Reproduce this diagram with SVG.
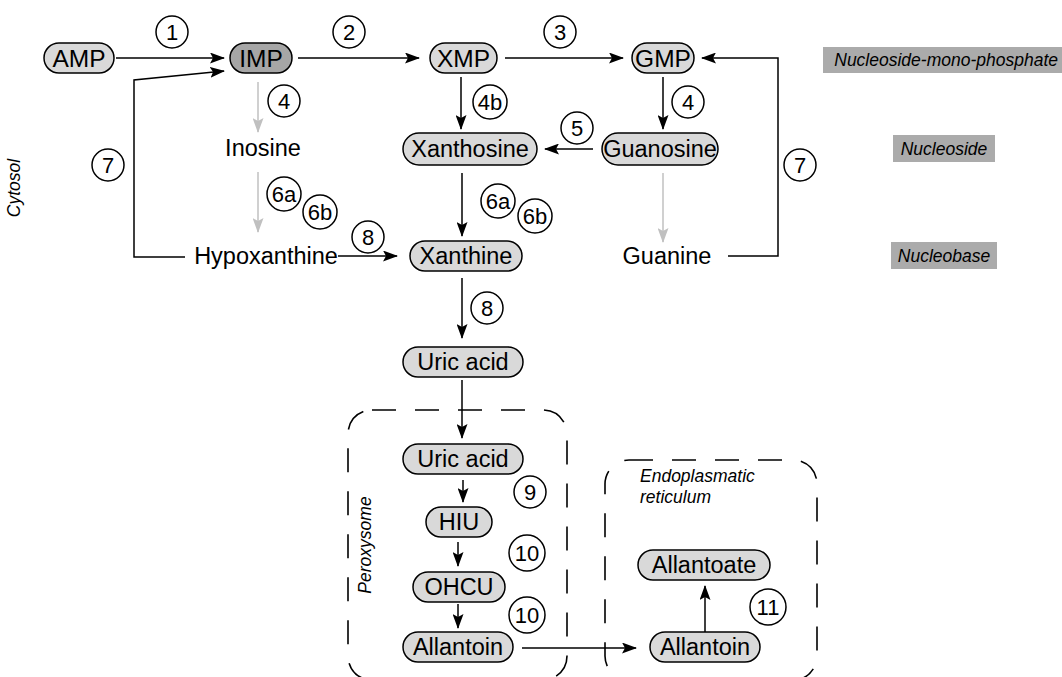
<svg xmlns="http://www.w3.org/2000/svg" width="1062" height="677" viewBox="0 0 1062 677">
<defs>
<marker id="ah" markerUnits="userSpaceOnUse" markerWidth="15" markerHeight="11" refX="14" refY="5.5" orient="auto">
<path d="M0,0 L15,5.5 L0,11 L3,5.5 Z" fill="#000"/>
</marker>
<marker id="ag" markerUnits="userSpaceOnUse" markerWidth="15" markerHeight="11" refX="14" refY="5.5" orient="auto">
<path d="M0,0 L15,5.5 L0,11 L3,5.5 Z" fill="#c0c0c0"/>
</marker>
</defs>
<style>
.pill{fill:#d9d9d9;stroke:#000;stroke-width:1.5}
.pill.dark{fill:#a6a6a6}
.t{font-family:"Liberation Sans",Arial,sans-serif;font-size:23.5px;fill:#000;text-anchor:middle}
.t.mp{font-size:24.5px}
.n{font-family:"Liberation Sans",Arial,sans-serif;font-size:22px;fill:#000;text-anchor:middle}
.c{fill:#fff;stroke:#000;stroke-width:1.5}
.lbl{fill:#ababab}
.it{font-family:"Liberation Sans",Arial,sans-serif;font-size:17.5px;font-style:italic;fill:#000}
.e{fill:none;stroke:#000;stroke-width:1.5}
.eg{fill:none;stroke:#c0c0c0;stroke-width:1.5}
.box{fill:none;stroke:#000;stroke-width:1.6;stroke-dasharray:24 19}
</style>
<rect width="1062" height="677" fill="#fff"/>

<g id="compartments">
<rect class="box" x="348" y="410" width="219" height="270" rx="24"/>
<rect class="box" x="605" y="460" width="212" height="220" rx="24"/>
<text class="it" transform="translate(20,188) rotate(-90)" text-anchor="middle" font-size="17">Cytosol</text>
<text class="it" transform="translate(371,545) rotate(-90)" text-anchor="middle" font-size="17">Peroxysome</text>
<text class="it" x="640" y="482">Endoplasmatic</text>
<text class="it" x="640" y="503">reticulum</text>
</g>

<g id="legend">
<rect class="lbl" x="823" y="47" width="239" height="26"/>
<text class="it" x="1058" y="66" text-anchor="end">Nucleoside-mono-phosphate</text>
<rect class="lbl" x="893" y="135" width="102" height="27"/>
<text class="it" x="944" y="155" text-anchor="middle">Nucleoside</text>
<rect class="lbl" x="891" y="242" width="106" height="27"/>
<text class="it" x="944" y="262" text-anchor="middle">Nucleobase</text>
</g>

<g id="connectors">
<path class="e" d="M116,58 H224" marker-end="url(#ah)"/>
<path class="e" d="M185,257 H134 V80 L224,71" marker-end="url(#ah)"/>
<path class="e" d="M298,58 H419" marker-end="url(#ah)"/>
<path class="e" d="M505,58 H623" marker-end="url(#ah)"/>
<path class="e" d="M728,256 H778 V58 H702" marker-end="url(#ah)"/>
<path class="eg" d="M258,82 V132" marker-end="url(#ag)"/>
<path class="eg" d="M258,172 V232" marker-end="url(#ag)"/>
<path class="e" d="M461,77 V129" marker-end="url(#ah)"/>
<path class="e" d="M663,77 V129" marker-end="url(#ah)"/>
<path class="e" d="M593,149 H545" marker-end="url(#ah)"/>
<path class="e" d="M462,173 V236" marker-end="url(#ah)"/>
<path class="eg" d="M663,173 V242" marker-end="url(#ag)"/>
<path class="e" d="M338,256 H397" marker-end="url(#ah)"/>
<path class="e" d="M462,278 V338" marker-end="url(#ah)"/>
<path class="e" d="M462,380 V438" marker-end="url(#ah)"/>
<path class="e" d="M463,480 V502" marker-end="url(#ah)"/>
<path class="e" d="M458,542 V566" marker-end="url(#ah)"/>
<path class="e" d="M458,604 V628" marker-end="url(#ah)"/>
<path class="e" d="M522,648 H636" marker-end="url(#ah)"/>
<path class="e" d="M705,632 V586" marker-end="url(#ah)"/>
</g>

<g id="AMP"><rect class="pill" x="44" y="43" width="70" height="30" rx="15"/><text class="t mp" x="79" y="66.5">AMP</text></g>
<g id="IMP"><rect class="pill dark" x="230" y="43" width="62" height="30" rx="15"/><text class="t mp" x="261" y="66.5">IMP</text></g>
<g id="XMP"><rect class="pill" x="430" y="43" width="67" height="30" rx="15"/><text class="t mp" x="463.5" y="66.5">XMP</text></g>
<g id="GMP"><rect class="pill" x="632" y="43" width="62" height="30" rx="15"/><text class="t mp" x="663" y="66.5">GMP</text></g>
<g id="Inosine"><text class="t" x="263" y="156">Inosine</text></g>
<g id="Xanthosine"><rect class="pill" x="403" y="133" width="134" height="32" rx="16"/><text class="t" x="470" y="157">Xanthosine</text></g>
<g id="Guanosine"><rect class="pill" x="602" y="133" width="116" height="32" rx="16"/><text class="t" x="660" y="157" font-size="22">Guanosine</text></g>
<g id="Hypoxanthine"><text class="t" x="266" y="264">Hypoxanthine</text></g>
<g id="Xanthine"><rect class="pill" x="410" y="241" width="112" height="30" rx="15"/><text class="t" x="466" y="264">Xanthine</text></g>
<g id="Guanine"><text class="t" x="667" y="264">Guanine</text></g>
<g id="UricAcid1"><rect class="pill" x="403" y="347" width="120" height="30" rx="15"/><text class="t" x="463" y="370">Uric acid</text></g>
<g id="UricAcid2"><rect class="pill" x="403" y="444" width="120" height="30" rx="15"/><text class="t" x="463" y="467">Uric acid</text></g>
<g id="HIU"><rect class="pill" x="426" y="507" width="66" height="30" rx="15"/><text class="t" x="459" y="530">HIU</text></g>
<g id="OHCU"><rect class="pill" x="413" y="572" width="92" height="30" rx="15"/><text class="t" x="459" y="595">OHCU</text></g>
<g id="Allantoin1"><rect class="pill" x="403" y="632" width="110" height="30" rx="15"/><text class="t" x="458" y="655">Allantoin</text></g>
<g id="Allantoate"><rect class="pill" x="638" y="550" width="132" height="30" rx="15"/><text class="t" x="704" y="573">Allantoate</text></g>
<g id="Allantoin2"><rect class="pill" x="650" y="632" width="110" height="30" rx="15"/><text class="t" x="705" y="655">Allantoin</text></g>

<g id="steps">
<g><circle class="c" cx="172" cy="32" r="16"/><text class="n" x="172" y="40">1</text></g>
<g><circle class="c" cx="349" cy="32" r="16"/><text class="n" x="349" y="40">2</text></g>
<g><circle class="c" cx="560" cy="32" r="16"/><text class="n" x="560" y="40">3</text></g>
<g><circle class="c" cx="284" cy="101" r="16"/><text class="n" x="284" y="109">4</text></g>
<g><circle class="c" cx="490" cy="102" r="17"/><text class="n" x="490" y="110">4b</text></g>
<g><circle class="c" cx="688" cy="102" r="16"/><text class="n" x="688" y="110">4</text></g>
<g><circle class="c" cx="577" cy="128" r="16"/><text class="n" x="577" y="136">5</text></g>
<g><circle class="c" cx="108" cy="165" r="16"/><text class="n" x="108" y="173">7</text></g>
<g><circle class="c" cx="800" cy="165" r="16"/><text class="n" x="800" y="173">7</text></g>
<g><circle class="c" cx="284" cy="194" r="17"/><text class="n" x="284" y="202">6a</text></g>
<g><circle class="c" cx="320" cy="212" r="17"/><text class="n" x="320" y="220">6b</text></g>
<g><circle class="c" cx="498" cy="201" r="17"/><text class="n" x="498" y="209">6a</text></g>
<g><circle class="c" cx="535" cy="216" r="17"/><text class="n" x="535" y="224">6b</text></g>
<g><circle class="c" cx="368" cy="237" r="16"/><text class="n" x="368" y="245">8</text></g>
<g><circle class="c" cx="487" cy="308" r="16"/><text class="n" x="487" y="316">8</text></g>
<g><circle class="c" cx="530" cy="492" r="16"/><text class="n" x="530" y="500">9</text></g>
<g><circle class="c" cx="527" cy="553" r="18"/><text class="n" x="527" y="561">10</text></g>
<g><circle class="c" cx="527" cy="615" r="18"/><text class="n" x="527" y="623">10</text></g>
<g><circle class="c" cx="768" cy="607" r="18"/><text class="n" x="768" y="615">11</text></g>
</g>
</svg>
